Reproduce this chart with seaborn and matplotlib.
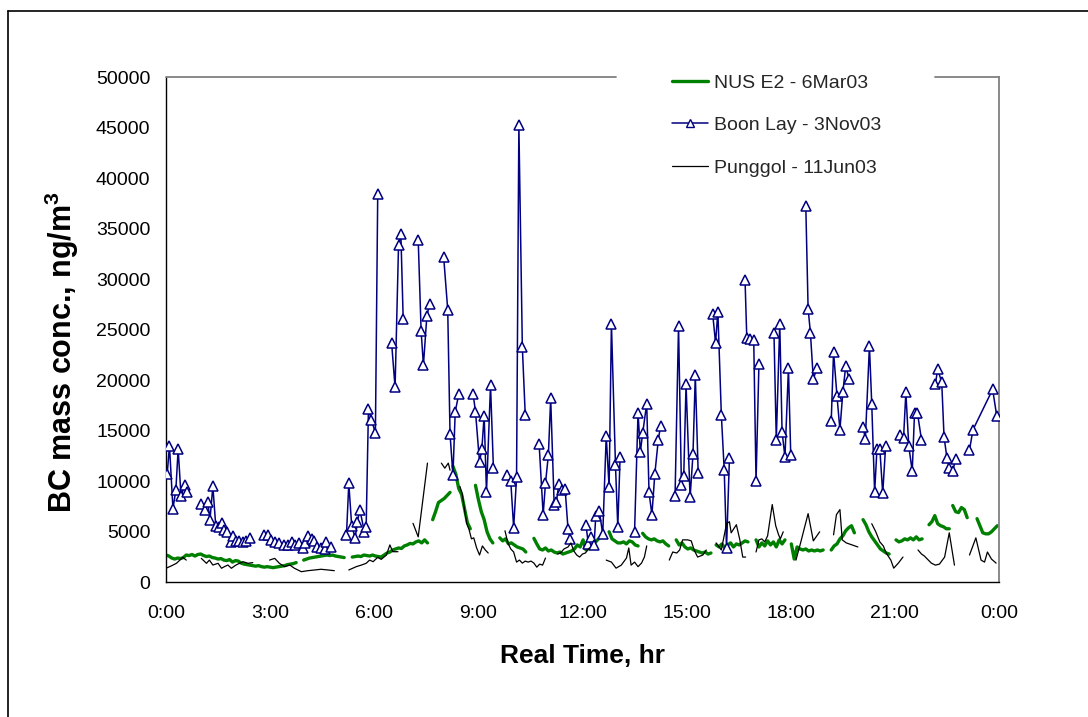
import numpy as np
import pandas as pd
import matplotlib
matplotlib.use("Agg")
import matplotlib.pyplot as plt
from matplotlib.lines import Line2D
import seaborn as sns

# ---- data (time of day, BC in ng/m3); None = gap in record ----
boon_time = ["0:02", "0:06", "0:12", "0:17", "0:21", "0:26", "0:32", "0:37", None,
             "1:00", "1:07", "1:12", "1:16", "1:21", "1:26", "1:31", "1:36", "1:40", "1:46",
             "1:52", "1:56", "2:01", "2:07", "2:13", "2:19", "2:26", None,
             "2:50", "2:56", "3:02", "3:08", "3:16", "3:24", "3:31", "3:37", "3:43", "3:50",
             "3:57", "4:01", "4:06", "4:12", "4:16", "4:21", "4:28", "4:34", "4:37", "4:46", None,
             "5:12", "5:16", "5:21", "5:27", "5:31", "5:35", "5:43", "5:46", "5:50", "5:55",
             "6:02", "6:06", None,
             "6:30", "6:36", "6:42", "6:46", "6:50", None,
             "7:16", "7:21", "7:25", "7:31", "7:36", None,
             "8:00", "8:07", "8:11", "8:16", "8:20", "8:26", None,
             "8:51", "8:55", "9:02", "9:06", "9:10", "9:14", "9:21", "9:26", None,
             "9:49", "9:56", "10:01", "10:06", "10:10", "10:16", "10:21", None,
             "10:45", "10:52", "10:56", "11:01", "11:05", "11:11", "11:15", "11:19", "11:24",
             "11:30", "11:35", "11:39", None,
             "12:06", "12:10", "12:14", "12:20", "12:23", "12:29", "12:35", "12:41", "12:46",
             "12:50", "12:57", "13:01", "13:05", None,
             "13:30", "13:36", "13:40", "13:44", "13:51", "13:55", "14:00", "14:05", "14:11",
             "14:15", None,
             "14:40", "14:46", "14:51", "14:55", "14:59", "15:06", "15:11", "15:15", "15:20", None,
             "15:45", "15:50", "15:54", "16:00", "16:05", "16:09", "16:14", None,
             "16:41", "16:44", "16:49", "16:56", "17:00", "17:05", None,
             "17:31", "17:35", "17:41", "17:45", "17:50", "17:56", "18:00", None,
             "18:26", "18:30", "18:34", "18:39", "18:45", None,
             "19:10", "19:14", "19:20", "19:25", "19:30", "19:35", "19:41", None,
             "20:05", "20:09", "20:16", "20:20", "20:25", "20:29", "20:34", "20:39", "20:44", None,
             "21:09", "21:15", "21:19", "21:24", "21:30", "21:34", "21:39", "21:46", None,
             "22:10", "22:14", "22:21", "22:25", "22:30", "22:34", "22:40", "22:45", None,
             "23:09", "23:15", "23:49", "23:56"]
boon_bc = [10700, 13500, 7300, 9100, 13200, 8500, 9600, 8900, None,
           7800, 7200, 8000, 6200, 9500, 5600, 5500, 5900, 5200, 5000,
           4000, 4600, 4100, 4100, 4000, 4100, 4350, None,
           4700, 4650, 4200, 4000, 3900, 3650, 3650, 4000, 3650, 3850,
           3350, 3900, 4600, 4300, 4100, 3500, 3350, 3300, 3950, 3500, None,
           4700, 9800, 5600, 4400, 6000, 7200, 5000, 5450, 17200, 16100,
           14800, 38400, None,
           23700, 19300, 33400, 34500, 26100, None,
           33900, 24900, 21500, 26400, 27600, None,
           32200, 27000, 14700, 10600, 16900, 18600, None,
           18600, 16900, 11900, 13200, 16500, 8900, 19500, 11300, None,
           10600, 10000, 5400, 10400, 45300, 23300, 16600, None,
           13700, 6700, 9800, 12600, 18200, 7700, 8000, 9700, 9100,
           9200, 5250, 4260, None,
           5700, 3800, 4500, 3700, 6600, 7100, 4750, 14500, 9400,
           25600, 11600, 5500, 12400, None,
           5000, 16800, 12900, 14750, 17700, 8900, 6700, 10700, 14100,
           15500, None,
           8550, 25400, 9600, 10500, 19600, 8400, 12700, 20500, 10800, None,
           26600, 23700, 26800, 16600, 11100, 3400, 12300, None,
           29900, 24200, 24100, 24000, 10000, 21600, None,
           24700, 14100, 25600, 14900, 12400, 21200, 12600, None,
           37300, 27100, 24700, 20100, 21200, None,
           16000, 22800, 18400, 15100, 18800, 21400, 20100, None,
           15400, 14200, 23400, 17700, 8900, 13200, 13200, 8800, 13500, None,
           14600, 14300, 18800, 13500, 11000, 16800, 16800, 14100, None,
           19600, 21100, 19800, 14400, 12300, 11300, 11000, 12200, None,
           13100, 15100, 19100, 16500]

punggol_time = ["0:00", "0:09", "0:18", "0:24", "0:29", "0:35", None,
                "1:01", "1:10", "1:15", "1:21", "1:30", "1:36", "1:41", "1:47", "1:53", "2:01",
                "2:07", "2:13", "2:22", "2:30", None,
                "2:59", "3:08", "3:16", "3:25", "3:34", "3:42", "3:54", "4:05", "4:17", "4:28",
                "4:40", "4:51", None,
                "5:16", "5:29", "5:38", "5:46", "5:52", "5:58", "6:06", "6:12", "6:21", "6:27",
                "6:32", "6:41", None,
                "7:07", "7:16", "7:32", None,
                "7:56", "8:02", "8:08", "8:11", None,
                "8:28", "8:32", "8:36", "8:40", "8:44", "8:48", "8:52", "8:57", "9:02", "9:07",
                "9:12", "9:17", None,
                "9:46", "9:51", "9:56", "10:01", "10:06", "10:11", "10:16", "10:21", "10:26",
                "10:31", "10:36", "10:41", "10:46", "10:51", "10:56", None,
                "11:17", "11:22", "11:28", "11:35", "11:40", "11:45", "11:50", "11:55", "12:00",
                "12:05", "12:12", None,
                "12:41", "12:50", "12:58", "13:07", "13:16", "13:20", "13:24", "13:30", "13:36",
                "13:42", "13:47", "13:51", None,
                "14:30", "14:36", "14:43", "14:48", "14:53", "15:02", "15:08", "15:13", "15:19",
                "15:28", "15:34", None,
                "15:51", "16:00", "16:09", "16:14", "16:17", "16:26", "16:32", "16:37", "16:42", None,
                "17:00", "17:05", "17:10", "17:15", "17:20", "17:28", "17:34", "17:39", "17:42",
                "17:47", None,
                "18:09", "18:17", "18:30", "18:39", "18:50", None,
                "19:14", "19:19", "19:25", "19:29", "19:36", "19:46", "19:56", None,
                "20:20", "20:27", "20:34", "20:40", "20:45", "20:53", "20:58", "21:06", "21:14", None,
                "21:40", "21:46", "21:51", "22:03", "22:10", "22:17", "22:26", "22:34", "22:43", None,
                "23:09", "23:20", "23:29", "23:35", "23:40", "23:47", "23:55"]
punggol_bc = [1390, 1620, 1880, 2200, 2470, 2200, None,
              2370, 1880, 2200, 1710, 1880, 1390, 1550, 1710, 1390, 1710,
              1880, 2040, 1880, 1950, None,
              2200, 2370, 1880, 1550, 1710, 1390, 1050, 1150, 1220, 1290,
              1220, 1150, None,
              1220, 1550, 1710, 1880, 2200, 2040, 2470, 2270, 2700, 3700,
              3030, 3030, None,
              5840, 4500, 11800, None,
              11800, 11300, 11800, 11100, None,
              9500, 8800, 7200, 5800, 5200, 4300, 4400, 3400, 2700, 3600,
              3200, 2900, None,
              5100, 3900, 3300, 3000, 2000, 2200, 1900, 2100, 2000,
              2100, 1900, 1500, 1800, 1700, 2400, None,
              2800, 2900, 3300, 3500, 3900, 3100, 2700, 2500, 2800,
              2900, 3400, None,
              2200, 2000, 1400, 1700, 2400, 3400, 1700, 2000, 1550,
              1900, 2500, 3600, None,
              2200, 3000, 2900, 3200, 4200, 4200, 4100, 3200, 2500,
              2700, 3200, None,
              3900, 3200, 5800, 6000, 4900, 5700, 4200, 2500, 2500, None,
              3000, 4200, 4300, 4000, 4600, 7700, 5600, 4700, 4300,
              5000, None,
              2200, 3900, 6800, 4100, 5000, None,
              4700, 6700, 7200, 4200, 3900, 3700, 3500, None,
              5800, 5000, 4000, 3600, 2900, 2200, 1400, 1900, 2500, None,
              3200, 2800, 2600, 1900, 1700, 1800, 2500, 4900, 1700, None,
              2700, 4400, 2200, 2000, 3000, 2300, 1900]

# NUS E2 is a 5-minute record: start time of each unbroken run + its readings
nus_start = ["0:00", "3:58", "5:22", "7:41", "8:16", "8:55", "9:37", "10:36", "12:46", "13:44",
             "14:42", "15:51", "17:00", "18:01", "19:10", "20:05", "21:02", "21:59", "22:40", "23:22"]
nus_bc = [
    [2700, 2600, 2400, 2300, 2400, 2350, 2450, 2700, 2650, 2750, 2600, 2750,
     2800, 2650, 2550, 2600, 2450, 2400, 2300, 2350, 2200, 2150, 2250, 2000,
     2150, 2100, 1900, 1800, 1750, 1700, 1650, 1600, 1650, 1550, 1500, 1550,
     1500, 1450, 1500, 1550, 1600, 1650, 1750, 1800, 1850, 1950],
    [2200, 2300, 2400, 2450, 2500, 2550, 2600, 2650, 2700, 2650, 2700, 2600, 2550, 2500, 2450],
    [2500, 2550, 2600, 2550, 2700, 2650, 2600, 2700, 2600, 2550, 2500, 2700, 2900, 3000,
     3200, 3300, 3400, 3350, 3600, 3700, 3850, 3800, 4000, 4100, 3900, 4200, 3900],
    [6200, 7000, 7900, 8100, 8300, 8600, 8900],
    [11500, 10700, 9300, 8700, 7300, 5900, 5300],
    [9600, 8200, 7000, 6200, 5000, 4300, 3900],
    [4400, 4100, 4300, 3800, 3900, 3700, 3500, 3400, 3300, 3000],
    [4350, 3800, 3300, 3200, 3400, 3100, 3200, 3000, 2900, 3000, 2800, 2900, 3000,
     3100, 3300, 3700, 3500, 4200, 3200, 3400, 3700, 3900, 4200, 4500, 4900],
    [5000, 4300, 4100, 3900, 3900, 4000, 3800, 4100, 4000, 3700, 3600],
    [4850, 4500, 4300, 4200, 4300, 4100, 4000, 4100, 3800, 3600],
    [4200, 3700, 3900, 3500, 3300, 3400, 3200, 3100, 3000, 2900, 3000, 2800, 2900],
    [3700, 3500, 3800, 3400, 3700, 3900, 3500, 3800, 3700, 3900, 4100, 4000],
    [4200, 3500, 3900, 3600, 4100, 3700, 4000, 3500, 4200, 3800, 4200],
    [3800, 2300, 3500, 3300, 3200, 3300, 3100, 3200, 3100, 3200, 3100, 3200],
    [3200, 3600, 3800, 4300, 4600, 5100, 5400, 5600, 4900],
    [6200, 5700, 5000, 4500, 4100, 3700, 3300, 3100, 2900, 2800],
    [4200, 4000, 4100, 4300, 4200, 4400, 4200, 4500, 4200, 4300],
    [5700, 6000, 6600, 5800, 5600, 5500, 5300, 5300],
    [7600, 7000, 6900, 7400, 7200, 6400],
    [6300, 5600, 4900, 4800, 4800, 5000, 5300, 5600],
]

hour_ticks = [0, 3, 6, 9, 12, 15, 18, 21, 24]
hour_labels = ["0:00", "3:00", "6:00", "9:00", "12:00", "15:00", "18:00", "21:00", "0:00"]


def to_hours(s):
    h, m = s.split(":")
    return int(h) + int(m) / 60


def gaps_to_df(times, values):
    # turn a gap-separated record into rows with a segment id
    rows, seg = [], 0
    for t, v in zip(times, values):
        if t is None:
            seg += 1
            continue
        rows.append((to_hours(t), v, seg))
    return pd.DataFrame(rows, columns=["hour", "bc", "seg"])


def runs_to_df(starts, runs, step_min=5):
    rows = []
    for seg, (s, vals) in enumerate(zip(starts, runs)):
        t0 = to_hours(s)
        for i, v in enumerate(vals):
            rows.append((t0 + i * step_min / 60, v, seg))
    return pd.DataFrame(rows, columns=["hour", "bc", "seg"])


boon = gaps_to_df(boon_time, boon_bc)
punggol = gaps_to_df(punggol_time, punggol_bc)
nus = runs_to_df(nus_start, nus_bc)

sns.set_theme(style="white")
plt.rcParams["font.family"] = ["Liberation Sans", "DejaVu Sans"]
plt.rcParams["mathtext.fontset"] = "custom"
plt.rcParams["mathtext.bf"] = "Liberation Sans:bold"
plt.rcParams["mathtext.rm"] = "Liberation Sans"

W, H = 1088, 717
fig = plt.figure(figsize=(W / 100, H / 100), dpi=100)
ax = fig.add_axes([166 / W, 1 - 582.3 / H, (999 - 166) / W, (582.3 - 77.3) / H])

green, navy = "#008000", "#000080"
sns.lineplot(data=nus, x="hour", y="bc", units="seg", estimator=None, sort=False,
             color=green, linewidth=2.4, ax=ax, legend=False, zorder=2)
sns.lineplot(data=boon, x="hour", y="bc", units="seg", estimator=None, sort=False,
             color=navy, linewidth=1.1, marker="^", markersize=7,
             markerfacecolor="white", markeredgecolor=navy, markeredgewidth=1.1,
             ax=ax, legend=False, zorder=3)
sns.lineplot(data=punggol, x="hour", y="bc", units="seg", estimator=None, sort=False,
             color="black", linewidth=0.9, ax=ax, legend=False, zorder=4)

ax.set_xlim(0, 24)
ax.set_ylim(0, 50000)
ax.set_xticks(hour_ticks)
ax.set_xticklabels(hour_labels)
ax.set_yticks(np.arange(0, 50001, 5000))
ax.tick_params(axis="both", direction="out", length=4.2, width=1, color="black",
               labelsize=14, labelcolor="black")
ax.tick_params(axis="x", pad=12)
ax.tick_params(axis="y", pad=7)

for side in ["left", "bottom"]:
    ax.spines[side].set_color("black")
    ax.spines[side].set_linewidth(1)
ax.spines["right"].set_color("#808080")
ax.spines["right"].set_linewidth(1.3)
ax.spines["top"].set_visible(False)
# top border of the plot area is broken where the legend sits
for x0, x1 in [(166, 616), (935, 999)]:
    ax.plot([(x0 - 166) / 833, (x1 - 166) / 833], [1, 1], transform=ax.transAxes,
            color="#808080", lw=1.3, clip_on=False, zorder=5)

ax.set_xlabel("Real Time, hr", fontsize=19, fontweight="bold", color="black")
ax.xaxis.set_label_coords(0.5, -0.122)
ax.set_ylabel(r"BC mass conc., ng/m$^{\mathbf{3}}$", fontsize=22, fontweight="bold", color="black")
ax.yaxis.set_label_coords(-0.102, 0.455)

handles = [Line2D([], [], color=green, lw=2.4),
           Line2D([], [], color=navy, lw=1.1, marker="^", markersize=6,
                  markerfacecolor="white", markeredgecolor=navy),
           Line2D([], [], color="black", lw=0.9)]
labels = ["NUS E2 - 6Mar03", "Boon Lay - 3Nov03", "Punggol - 11Jun03"]
fig.legend(handles, labels, loc="upper left", bbox_to_anchor=(672 / W, 1 - 74 / H),
           frameon=False, fontsize=14, handlelength=1.85, handletextpad=0.3,
           labelspacing=1.28, borderpad=0, borderaxespad=0)

# outer chart-area border (only left and top edges fall inside the picture)
fig.add_artist(Line2D([8 / W, 8 / W], [0, 1 - 11 / H], color="black", lw=1.2))
fig.add_artist(Line2D([8 / W, 1], [1 - 11 / H, 1 - 11 / H], color="black", lw=1.2))

fig.savefig("out.png", dpi=100)
